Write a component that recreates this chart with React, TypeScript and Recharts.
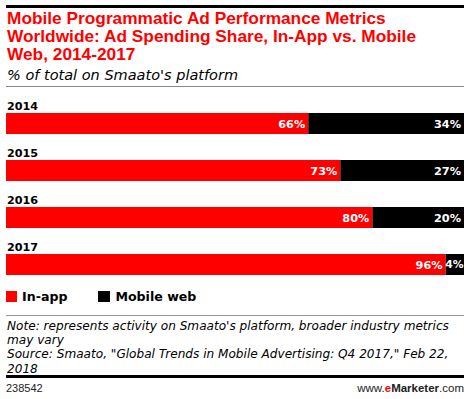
import React from 'react';
import { BarChart, Bar, XAxis, YAxis, LabelList } from 'recharts';

// 데이터
const years = ['2014', '2015', '2016', '2017'];
const inApp = [66, 73, 80, 96];
const mobileWeb = [34, 27, 20, 4];

const data = years.map((year, i) => ({ year, inApp: inApp[i], mobileWeb: mobileWeb[i] }));

const RED = '#ff0000';
const BLACK = '#000000';
const BAR_FONT = '"DejaVu Sans", sans-serif';
const ARIAL = '"Liberation Sans", Arial, sans-serif';

const titleLines = [
  'Mobile Programmatic Ad Performance Metrics',
  'Worldwide: Ad Spending Share, In-App vs. Mobile',
  'Web, 2014-2017',
];

const noteLines = [
  "Note: represents activity on Smaato's platform, broader industry metrics",
  'may vary',
  'Source: Smaato, "Global Trends in Mobile Advertising: Q4 2017," Feb 22,',
  '2018',
];

const YearLabel = (props: any) => {
  const { x, y, value } = props;
  return (
    <text x={Number(x) + 1} y={Number(y) - 3} fill="#000" fontFamily={BAR_FONT} fontWeight="bold" fontSize={11.2}>
      {value}
    </text>
  );
};

const ValueLabel = (props: any) => {
  const { x, y, width, height, value } = props;
  const w = Number(width);
  // 좁은 구간은 여백을 줄임
  const pad = w < 24 ? 0.5 : 3;
  return (
    <text
      x={Number(x) + w - pad}
      y={Number(y) + Number(height) / 2}
      dy="0.36em"
      textAnchor="end"
      fill="#fff"
      fontFamily={BAR_FONT}
      fontWeight="bold"
      fontSize={w < 24 ? 10.8 : 11.3}
    >
      {value}%
    </text>
  );
};

export default function App() {
  return (
    <div style={{ position: 'relative', width: 470, height: 399, background: '#fff', overflow: 'hidden' }}>
      <style>{'body{margin:0}'}</style>
      {/* 상단 굵은 선 */}
      <div style={{ position: 'absolute', left: 6, top: 5, width: 458, height: 2.5, background: '#000' }} />
      {titleLines.map((line, i) => (
        <div
          key={line}
          style={{
            position: 'absolute', left: 7, top: 10 + i * 17.8, height: 17.8, whiteSpace: 'nowrap',
            fontFamily: ARIAL, fontWeight: 'bold', fontSize: 17.3, lineHeight: '17.8px', color: RED,
          }}
        >
          {line}
        </div>
      ))}
      <div
        style={{
          position: 'absolute', left: 7, top: 67, whiteSpace: 'nowrap',
          fontFamily: BAR_FONT, fontStyle: 'italic', fontSize: 14.5, color: '#000',
        }}
      >
        % of total on Smaato's platform
      </div>
      <div style={{ position: 'absolute', left: 6, top: 86, width: 458, height: 1, background: '#888' }} />

      <div style={{ position: 'absolute', left: 0, top: 100 }}>
        <BarChart
          layout="vertical"
          width={470}
          height={188}
          data={data}
          margin={{ top: 0, right: 6, bottom: 0, left: 6 }}
          barSize={21}
          barCategoryGap={0}
        >
          <XAxis type="number" domain={[0, 100]} hide />
          <YAxis type="category" dataKey="year" hide />
          <Bar dataKey="inApp" stackId="a" fill={RED} isAnimationActive={false}>
            <LabelList dataKey="year" content={YearLabel} />
            <LabelList dataKey="inApp" content={ValueLabel} />
          </Bar>
          <Bar dataKey="mobileWeb" stackId="a" fill={BLACK} isAnimationActive={false}>
            <LabelList dataKey="mobileWeb" content={ValueLabel} />
          </Bar>
        </BarChart>
      </div>

      {/* 범례 */}
      <div
        style={{
          position: 'absolute', left: 6, top: 289, display: 'flex', alignItems: 'center',
          fontFamily: BAR_FONT, fontWeight: 'bold', fontSize: 12.6, color: '#000',
        }}
      >
        <span style={{ width: 11, height: 11, background: RED, marginRight: 5 }} />
        <span style={{ marginRight: 31 }}>In-app</span>
        <span style={{ width: 12, height: 11, background: BLACK, marginRight: 5 }} />
        <span>Mobile web</span>
      </div>
      <div style={{ position: 'absolute', left: 6, top: 315, width: 458, height: 1, background: '#999' }} />

      {noteLines.map((line, i) => (
        <div
          key={line}
          style={{
            position: 'absolute', left: 7, top: 319 + i * 14.2, height: 14.2, whiteSpace: 'nowrap',
            fontFamily: BAR_FONT, fontStyle: 'italic', fontSize: 12.1, lineHeight: '14.2px', color: '#000',
          }}
        >
          {line}
        </div>
      ))}
      <div style={{ position: 'absolute', left: 6, top: 375, width: 458, height: 3, background: '#000' }} />
      <div style={{ position: 'absolute', left: 6, top: 382, fontFamily: ARIAL, fontSize: 11, color: '#222' }}>
        238542
      </div>
      <div style={{ position: 'absolute', right: 6, top: 382, fontFamily: ARIAL, fontSize: 11.5, color: '#222' }}>
        www.<b style={{ color: RED }}>e</b><b>Marketer</b>.com
      </div>
    </div>
  );
}
